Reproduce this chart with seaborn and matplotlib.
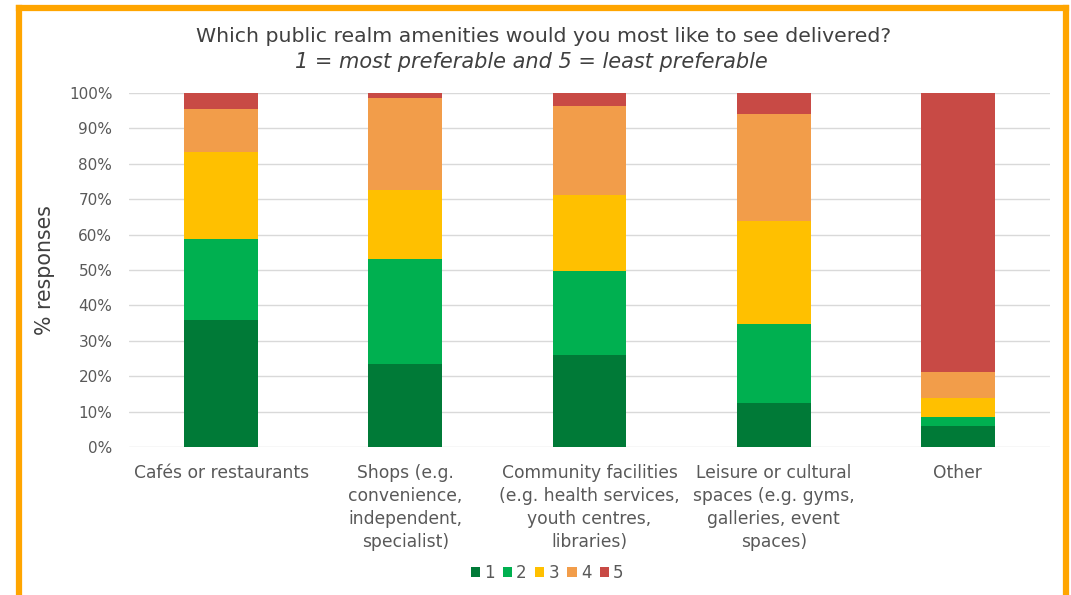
import numpy as np
import pandas as pd
import matplotlib
matplotlib.use("Agg")
import matplotlib.pyplot as plt
from matplotlib.patches import Patch
from matplotlib.lines import Line2D
import seaborn as sns

categories = [
    "Cafés or restaurants",
    "Shops (e.g.\nconvenience,\nindependent,\nspecialist)",
    "Community facilities\n(e.g. health services,\nyouth centres,\nlibraries)",
    "Leisure or cultural\nspaces (e.g. gyms,\ngalleries, event\nspaces)",
    "Other",
]
rank_labels = ["1", "2", "3", "4", "5"]
rank1 = [36.0, 23.5, 26.1, 12.3, 5.8]
rank2 = [22.8, 29.6, 23.5, 22.5, 2.6]
rank3 = [24.5, 19.5, 21.7, 29.1, 5.4]
rank4 = [12.3, 26.0, 24.9, 30.1, 7.3]
rank5 = [4.4, 1.4, 3.8, 6.0, 78.9]
colors = ["#007A37", "#00B050", "#FFC000", "#F29D4A", "#C84A45"]
yticks = [0, 10, 20, 30, 40, 50, 60, 70, 80, 90, 100]

sns.set_theme(style="white")
plt.rcParams["font.family"] = ["DejaVu Sans"]
text_color = "#404040"

fig = plt.figure(figsize=(10.71, 5.95), dpi=100)
ax = fig.add_axes([129 / 1071, 1 - 447 / 595, 921 / 1071, 354 / 595])

series = np.array([rank1, rank2, rank3, rank4, rank5])
cum = np.cumsum(series, axis=0)
cum = cum / cum[-1] * 100

for i in range(len(rank_labels) - 1, -1, -1):
    df = pd.DataFrame({"category": categories, "value": cum[i]})
    sns.barplot(data=df, x="category", y="value", color=colors[i],
                saturation=1, width=0.4, linewidth=0, ax=ax, zorder=3)

ax.set_xlim(-0.5, len(categories) - 0.5)
ax.set_ylim(0, 100)
ax.set_yticks(yticks)
ax.set_yticklabels([f"{t}%" for t in yticks], color="#595959", fontsize=11)
ax.tick_params(axis="x", labelsize=12.3, colors="#595959", length=0, pad=12)
ax.tick_params(axis="y", length=0, pad=12)
for lab in ax.get_xticklabels():
    lab.set_linespacing(1.37)
ax.yaxis.grid(True, color="#D9D9D9", linewidth=1, zorder=0)
ax.xaxis.grid(False)
for s in ax.spines.values():
    s.set_visible(False)
ax.set_xlabel("")
ax.set_ylabel("% responses", fontsize=14.8, color=text_color)
ax.yaxis.set_label_coords((55 - 129) / 921, 0.5)

fig.text(544 / 1071, 1 - 36 / 595, "Which public realm amenities would you most like to see delivered?",
         ha="center", va="center", fontsize=14.7, color=text_color)
fig.text(531 / 1071, 1 - 62 / 595, "1 = most preferable and 5 = least preferable",
         ha="center", va="center", fontsize=15, color=text_color, style="italic")

handles = [Patch(facecolor=c, edgecolor="none") for c in colors]
fig.legend(handles, rank_labels, loc="center", bbox_to_anchor=(547 / 1071, 1 - 573 / 595),
           ncol=5, frameon=False, fontsize=12, handlelength=0.55, handleheight=0.55,
           handletextpad=0.25, columnspacing=0.5, labelcolor="#595959")

# orange frame (open at the bottom, as cropped in the reference)
border = "#FFA500"
lw = 4.5
left_x, right_x, top_y = 18.5 / 1071, 1066 / 1071, 1 - 7.5 / 595
fig.add_artist(Line2D([left_x, left_x], [-0.05, top_y], transform=fig.transFigure,
                      color=border, linewidth=lw, solid_capstyle="projecting"))
fig.add_artist(Line2D([right_x, right_x], [-0.05, top_y], transform=fig.transFigure,
                      color=border, linewidth=lw, solid_capstyle="projecting"))
fig.add_artist(Line2D([left_x, right_x], [top_y, top_y], transform=fig.transFigure,
                      color=border, linewidth=lw, solid_capstyle="projecting"))

fig.savefig("out.png", dpi=100)
